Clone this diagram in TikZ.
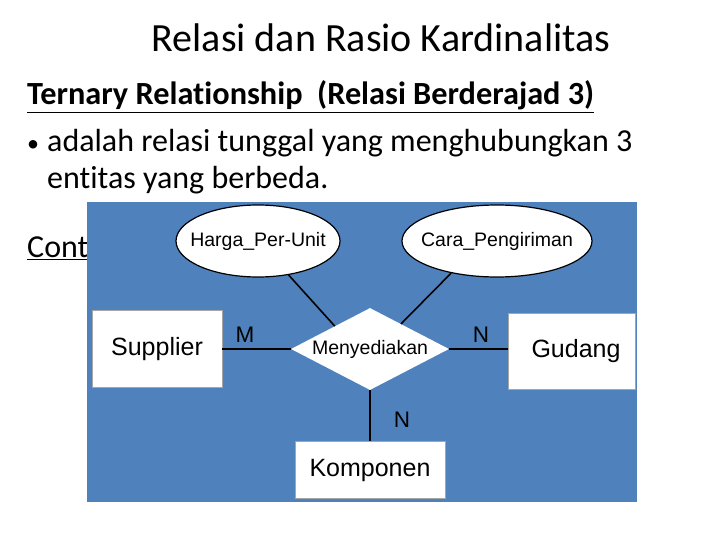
\documentclass[tikz,border=0pt]{standalone}
\usepackage{fontspec}
\setmainfont{Carlito}[Ligatures={NoCommon}]
\newfontfamily\arialf{Liberation Sans}
\usetikzlibrary{shapes.geometric}
\definecolor{panelblue}{RGB}{79,129,189}
\begin{document}
\begin{tikzpicture}[x=1pt,y=-1pt,
  slidetext/.style={anchor=base west,inner sep=0pt,font=\fontsize{32}{36}\selectfont},
  entity/.style={draw=gray!70,line width=0.6pt,fill=white,minimum width=130pt,minimum height=77pt,font=\arialf\fontsize{25}{28}\selectfont},
  attrib/.style={ellipse,draw=black,line width=1.2pt,fill=white,inner sep=0pt,font=\arialf\fontsize{19.5}{22}\selectfont},
  link/.style={line width=1.6pt,black},
  card/.style={font=\arialf\fontsize{22.5}{24}\selectfont,inner sep=0pt}]
\useasboundingbox (0,0) rectangle (720,540);
\fill[white] (0,0) rectangle (720,540);
% slide text
\node[anchor=base,inner sep=0pt,font=\fontsize{40}{46}\selectfont] (title) at (381,52) {Relasi dan Rasio Kardinalitas};
\node[slidetext,font=\bfseries\fontsize{32.3}{36}\selectfont] (head) at (27,105) {\underline{Ternary Relationship\ \ (Relasi Berderajad 3)}};
\node[slidetext,font=\fontsize{24}{28}\selectfont] (bul) at (27,152) {\textbullet};
\node[slidetext] (b1) at (47,152) {adalah relasi tunggal yang menghubungkan 3};
\node[slidetext] (b2) at (47,189) {entitas yang berbeda.};
\node[slidetext] (cont) at (27,258) {\underline{Contoh:}};
% diagram panel
\fill[panelblue] (87,202) rectangle (637,502);
\node[attrib,minimum width=164pt,minimum height=72pt] (harga) at (258,241) {\makebox[0pt]{Harga\_Per-Unit}};
\node[attrib,minimum width=190pt,minimum height=72pt] (cara) at (497,241) {\makebox[0pt]{Cara\_Pengiriman}};
\node[diamond,fill=white,inner sep=0pt,minimum width=158pt,minimum height=82pt,aspect=1.93,font=\arialf\fontsize{19.5}{22}\selectfont] (rel) at (370,349) {Menyediakan};
\node[entity] (sup) at (157,349) {Supplier};
\node[entity,minimum width=127pt,minimum height=76pt] (gud) at (572,351) {\hspace*{8pt}Gudang};
\node[entity,minimum width=150pt,minimum height=57pt] (komp) at (370,470) {Komponen};
\draw[link] (sup.east |- rel.west) -- (rel.west);
\draw[link] (rel.east) -- (gud.west |- rel.east);
\draw[link] (rel.south) -- (komp.north);
\draw[link] (harga.-48) -- (rel.147);
\draw[link] (cara.-145) -- (rel.39);
\node[card] (m) at (245,335) {M};
\node[card] (n1) at (481,335) {N};
\node[card] (n2) at (402,420) {N};
\end{tikzpicture}
\end{document}
